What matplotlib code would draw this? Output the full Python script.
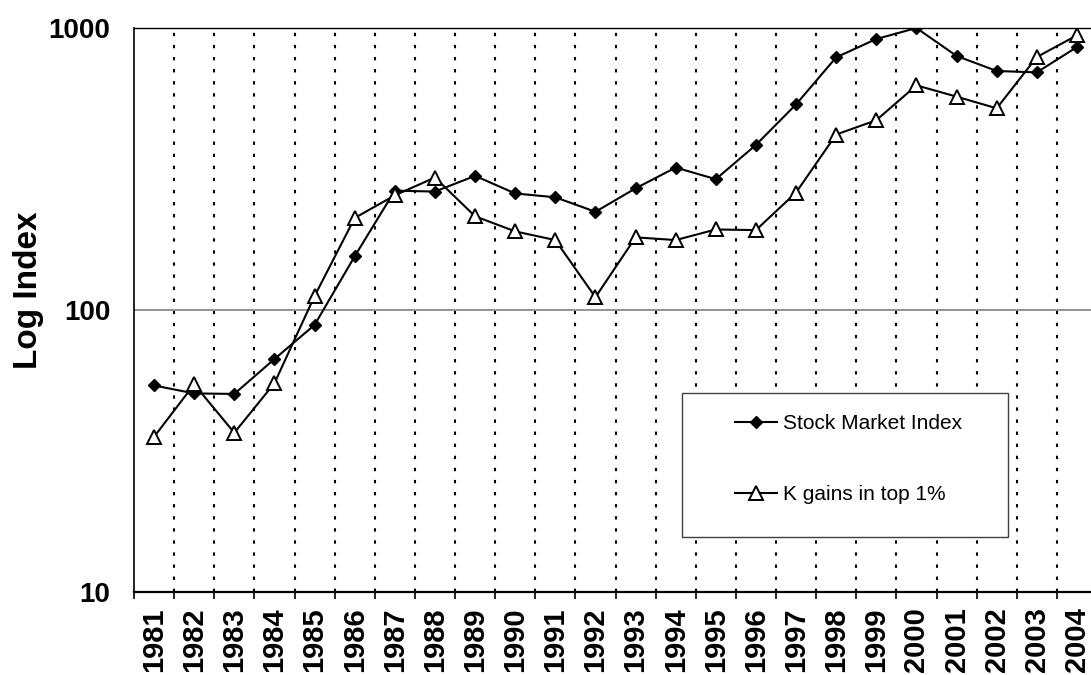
import numpy as np
import matplotlib
matplotlib.use('Agg')
from matplotlib import pyplot as plt
from matplotlib.patches import Rectangle

years = ['1981', '1982', '1983', '1984', '1985', '1986', '1987', '1988',
         '1989', '1990', '1991', '1992', '1993', '1994', '1995', '1996',
         '1997', '1998', '1999', '2000', '2001', '2002', '2003', '2004']
stock_index = [54, 50.6, 50.4, 67, 88.5, 155, 265, 263, 299, 259, 251, 223,
               270, 320, 291, 385, 536, 787, 914, 1000, 796, 704, 696, 856]
k_gains = [35.5, 54.5, 36.7, 55, 112, 212, 255, 295, 215, 190, 177, 111,
           181, 177, 193, 192, 261, 419, 471, 626, 571, 519, 789, 942]
y_ticks = [10, 100, 1000]

plt.rcParams['font.family'] = ['Liberation Sans', 'DejaVu Sans']

W, H = 1091, 675
fig = plt.figure(figsize=(W / 100, H / 100), dpi=100)
# plot area in pixels: x 134..1097, y 28..592 (right edge runs off the picture)
ax = fig.add_axes([134 / W, (H - 592) / H, 963 / W, 564 / H])

x = np.arange(len(years))
ax.plot(x, stock_index, color='black', lw=1.5, marker='D', markersize=6.5,
        markerfacecolor='black', markeredgecolor='black', label='Stock Market Index', zorder=4)
ax.plot(x, k_gains, color='black', lw=1.5, marker='^', markersize=10,
        markerfacecolor='white', markeredgecolor='black', markeredgewidth=1.4,
        label='K gains in top 1%', zorder=4)

ax.set_yscale('log')
ax.set_ylim(10, 1000)
ax.set_xlim(-0.5, len(years) - 0.5)

# category boundaries: dotted grid + outward ticks
bounds = np.arange(len(years) + 1) - 0.5
for b in bounds[1:-1]:
    ax.axvline(b, color='black', lw=1.5, ls=(0, (1.6, 4.2)), zorder=1)
ax.axhline(100, color='#808080', lw=1.2, zorder=1)

ax.set_xticks(x)
ax.set_xticklabels(years, rotation=90, fontsize=21, fontweight='bold')
ax.set_xticks(bounds, minor=True)
ax.tick_params(axis='x', which='major', length=0, pad=11)
ax.tick_params(axis='x', which='minor', length=5, width=1.2, direction='out')

ax.set_yticks(y_ticks)
ax.set_yticklabels([str(v) for v in y_ticks], fontsize=20, fontweight='bold')
ax.yaxis.set_minor_locator(matplotlib.ticker.NullLocator())
ax.tick_params(axis='y', which='major', length=0, pad=17)

ax.spines['left'].set_linewidth(1.2)
ax.spines['bottom'].set_linewidth(1.6)
ax.spines['top'].set_linewidth(1.0)
ax.spines['right'].set_linewidth(1.0)

fig.text(28 / W, 1 - 290 / H, 'Log Index', rotation=90, ha='center', va='center',
         fontsize=24, fontweight='bold')

# legend box
box = Rectangle((682 / W, 1 - 537 / H), (1008 - 682) / W, (537 - 393) / H,
                transform=fig.transFigure, facecolor='white', edgecolor='#404040',
                lw=1.0, zorder=3, clip_on=False)
ax.add_patch(box)
leg = ax.legend(loc='upper left', bbox_to_anchor=(735 / W, 1 - 414 / H),
                bbox_transform=fig.transFigure, frameon=False, fontsize=15,
                borderpad=0, borderaxespad=0, handlelength=2.0, handletextpad=0.3,
                labelspacing=2.5)
leg.set_zorder(5)

fig.savefig('out.png', dpi=100)
